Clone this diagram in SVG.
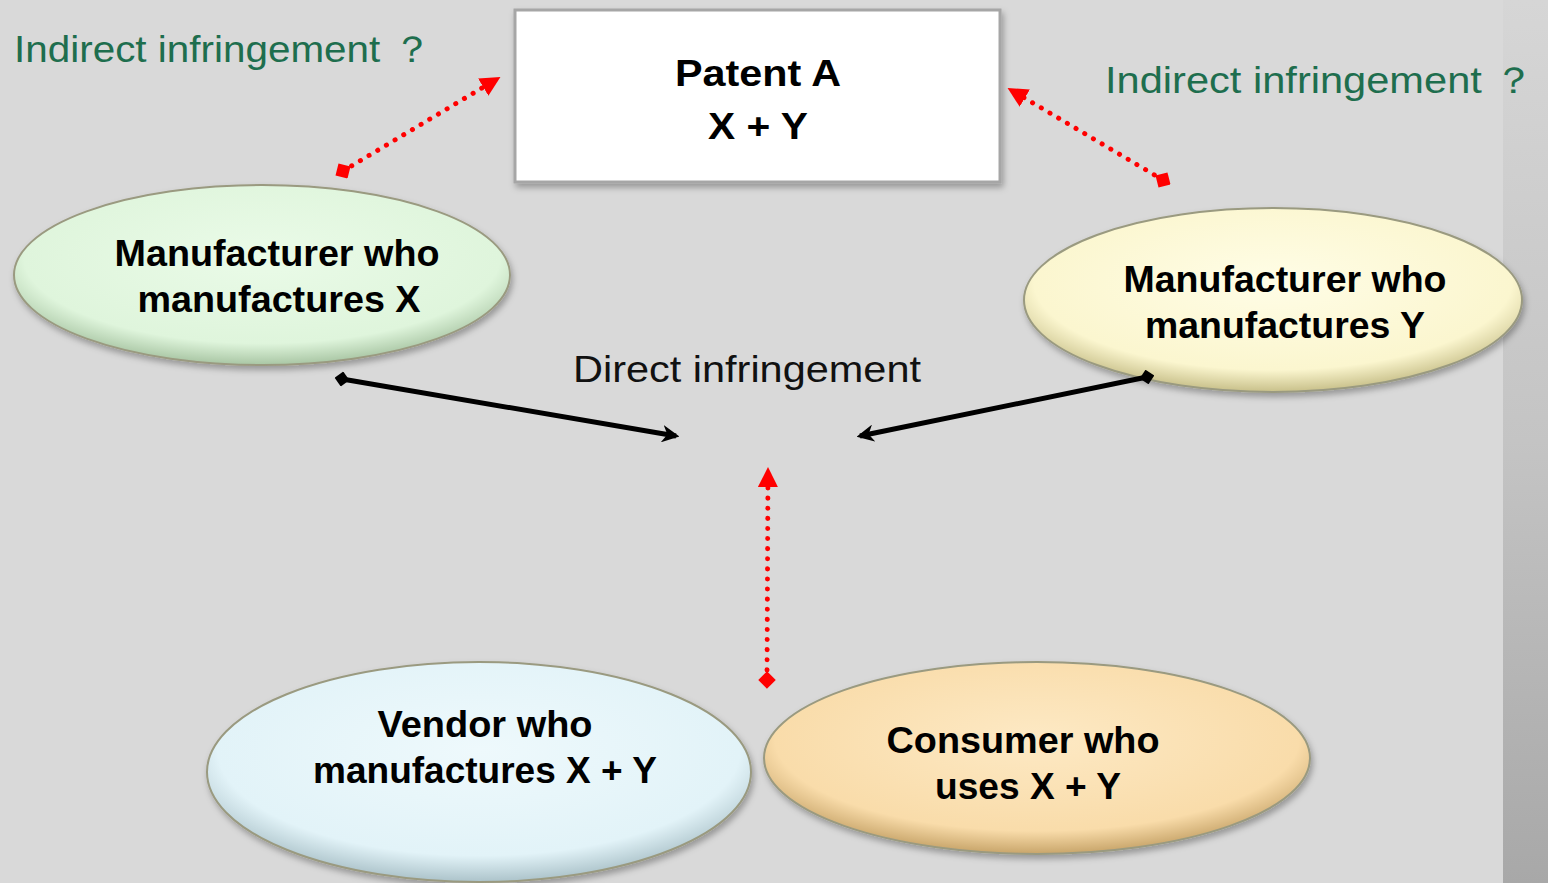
<svg xmlns="http://www.w3.org/2000/svg" width="1548" height="883" viewBox="0 0 1548 883">
<defs>
<linearGradient id="strip" x1="0" y1="0" x2="0" y2="1"><stop offset="0" stop-color="#d6d6d6"/><stop offset="0.5" stop-color="#c4c4c4"/><stop offset="1" stop-color="#a8a8a8"/></linearGradient>
<radialGradient id="gG" cx="0.5" cy="0.4" r="0.6"><stop offset="0" stop-color="#eafbe8"/><stop offset="0.8" stop-color="#dff5dc"/><stop offset="1" stop-color="#a9c6a4"/></radialGradient>
<radialGradient id="gY" cx="0.5" cy="0.4" r="0.6"><stop offset="0" stop-color="#fffde6"/><stop offset="0.8" stop-color="#fbf6cf"/><stop offset="1" stop-color="#c8c08a"/></radialGradient>
<radialGradient id="gB" cx="0.5" cy="0.4" r="0.6"><stop offset="0" stop-color="#eef9fc"/><stop offset="0.8" stop-color="#e2f3f8"/><stop offset="1" stop-color="#acc3ca"/></radialGradient>
<radialGradient id="gO" cx="0.5" cy="0.4" r="0.6"><stop offset="0" stop-color="#fde9c4"/><stop offset="0.8" stop-color="#f9dcaa"/><stop offset="1" stop-color="#c8a56a"/></radialGradient>
<marker id="rA" viewBox="0 0 10 10" refX="8" refY="5" markerWidth="4" markerHeight="4" orient="auto-start-reverse" markerUnits="strokeWidth"><path d="M0,0 L10,5 L0,10 Z" fill="#ff0000"/></marker>
<marker id="rD" viewBox="0 0 10 10" refX="5" refY="5" markerWidth="3.5" markerHeight="3.5" orient="auto" markerUnits="strokeWidth"><path d="M0,5 L5,0 L10,5 L5,10 Z" fill="#ff0000"/></marker>
<marker id="kA" viewBox="0 0 10 10" refX="8" refY="5" markerWidth="3.5" markerHeight="3.5" orient="auto" markerUnits="strokeWidth"><path d="M0,0 L10,5 L0,10 L3,5 Z" fill="#000"/></marker>
<marker id="kD" viewBox="0 0 10 10" refX="5" refY="5" markerWidth="3" markerHeight="3" orient="auto" markerUnits="strokeWidth"><path d="M0,5 L5,0 L10,5 L5,10 Z" fill="#000"/></marker>
<filter id="sh" x="-10%" y="-10%" width="120%" height="130%"><feDropShadow dx="2" dy="4" stdDeviation="3" flood-color="#000" flood-opacity="0.3"/></filter>
</defs>
<style>
.node{font-family:"Liberation Sans",Arial,sans-serif;font-weight:bold;font-size:36px;fill:#000;text-anchor:middle}
.lbl{font-family:"Liberation Sans",Arial,sans-serif;font-size:37px}
.ell{stroke:#9a9a80;stroke-width:2}
.red{stroke:#ff0000;stroke-width:5;stroke-dasharray:0.1 10;stroke-linecap:round;fill:none}
.blk{stroke:#000;stroke-width:5;fill:none}
</style>
<rect x="0" y="0" width="1548" height="883" fill="#d9d9d9"/>
<rect x="1503" y="0" width="45" height="883" fill="url(#strip)"/>
<g id="patent"><rect x="515" y="10" width="485" height="172" fill="#fff" stroke="#a6a6a6" stroke-width="3" filter="url(#sh)"/><text class="node" x="758" y="86" textLength="166" lengthAdjust="spacingAndGlyphs">Patent A</text><text class="node" x="758" y="139" textLength="100" lengthAdjust="spacingAndGlyphs">X + Y</text></g>
<g id="mfgX"><ellipse class="ell" cx="262" cy="275" rx="248" ry="90" fill="url(#gG)" filter="url(#sh)"/><text class="node" x="277" y="266" textLength="325" lengthAdjust="spacingAndGlyphs">Manufacturer who</text><text class="node" x="279" y="312" textLength="283" lengthAdjust="spacingAndGlyphs">manufactures X</text></g>
<g id="mfgY"><ellipse class="ell" cx="1273" cy="300" rx="249" ry="92" fill="url(#gY)" filter="url(#sh)"/><text class="node" x="1285" y="292" textLength="323" lengthAdjust="spacingAndGlyphs">Manufacturer who</text><text class="node" x="1285" y="338" textLength="280" lengthAdjust="spacingAndGlyphs">manufactures Y</text></g>
<g id="vendor"><ellipse class="ell" cx="479" cy="772" rx="272" ry="110" fill="url(#gB)" filter="url(#sh)"/><text class="node" x="485" y="737" textLength="215" lengthAdjust="spacingAndGlyphs">Vendor who</text><text class="node" x="485" y="783" textLength="344" lengthAdjust="spacingAndGlyphs">manufactures X + Y</text></g>
<g id="consumer"><ellipse class="ell" cx="1037" cy="758" rx="273" ry="96" fill="url(#gO)" filter="url(#sh)"/><text class="node" x="1023" y="753" textLength="273" lengthAdjust="spacingAndGlyphs">Consumer who</text><text class="node" x="1028" y="799" textLength="186" lengthAdjust="spacingAndGlyphs">uses X + Y</text></g>
<g id="labels">
<text class="lbl" x="14" y="62" fill="#1e6e4e" textLength="418" lengthAdjust="spacingAndGlyphs">Indirect infringement ？</text>
<text class="lbl" x="1105" y="93" fill="#1e6e4e" textLength="430" lengthAdjust="spacingAndGlyphs">Indirect infringement ？</text>
<text class="lbl" x="573" y="382" fill="#111" textLength="348" lengthAdjust="spacingAndGlyphs">Direct infringement</text>
</g>
<g id="connectors">
<line class="red" x1="343" y1="171" x2="497" y2="79" marker-start="url(#rD)" marker-end="url(#rA)"/>
<line class="red" x1="1163" y1="180" x2="1011" y2="90" marker-start="url(#rD)" marker-end="url(#rA)"/>
<line class="red" x1="767" y1="680" x2="768" y2="471" marker-start="url(#rD)" marker-end="url(#rA)"/>
<line class="blk" x1="342" y1="379" x2="676" y2="436" marker-start="url(#kD)" marker-end="url(#kA)"/>
<line class="blk" x1="1147" y1="377" x2="860" y2="436" marker-start="url(#kD)" marker-end="url(#kA)"/>
</g>
</svg>
